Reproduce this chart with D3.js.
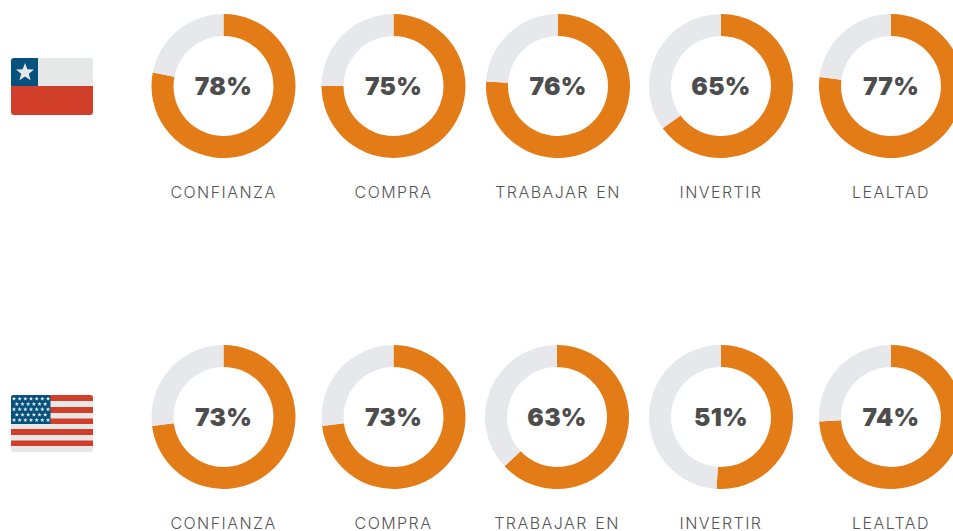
<!DOCTYPE html>
<html>
<head>
<meta charset="utf-8">
<script src="https://cdn.jsdelivr.net/npm/d3@7/dist/d3.min.js"></script>
<style>
html, body { margin: 0; padding: 0; background: #fff; overflow: hidden; }
svg { display: block; }
.pct { font-family: Inter, sans-serif; font-weight: 900; font-size: 24.5px; fill: #4d4d4d; text-anchor: middle; letter-spacing: 0.3px; }
.lbl { font-family: Inter, sans-serif; font-weight: 300; font-size: 16px; fill: #555; text-anchor: middle; letter-spacing: 1.45px; word-spacing: 1.5px; }
</style>
</head>
<body>
<svg width="953" height="531"></svg>
<script>
var categories = ["CONFIANZA", "COMPRA", "TRABAJAR EN", "INVERTIR", "LEALTAD"];
var chile = [78, 75, 76, 65, 77];
var usa = [73, 73, 63, 51, 74];

var svg = d3.select("svg");

var OUTER = 72, INNER = 50;
var arc = d3.arc().innerRadius(INNER).outerRadius(OUTER);
var pie = d3.pie().sort(null);

function drawRow(values, cy, cxs) {
    var row = svg.append("g").attr("class", "row");
    values.forEach(function (v, i) {
        var g = row.append("g").attr("transform", "translate(" + cxs[i] + "," + cy + ")");
        g.selectAll("path")
            .data(pie([v, 100 - v]))
            .enter().append("path")
            .attr("d", arc)
            .attr("fill", function (d, j) { return j == 0 ? "#e37b17" : "#e7e8ec"; });
        g.append("text").attr("class", "pct").attr("y", 9).text(v + "%");
        g.append("text").attr("class", "lbl").attr("y", 112).text(categories[i]);
    });
}

drawRow(chile, 86, [223.5, 393.5, 558, 721, 891]);
drawRow(usa, 417, [223.5, 393.5, 557, 721, 891]);

function star(cx, cy, r) {
    var pts = d3.range(10).map(function (i) {
        var a = i * Math.PI / 5, rr = i % 2 ? r * 0.42 : r;
        return [cx + rr * Math.sin(a), cy - rr * Math.cos(a)];
    });
    return "M" + pts.join("L") + "Z";
}

// chile flag
var fc = svg.append("g");
fc.append("clipPath").attr("id", "clipc").append("rect")
    .attr("x", 11).attr("y", 58).attr("width", 82).attr("height", 57).attr("rx", 3);
var fcg = fc.append("g").attr("clip-path", "url(#clipc)");
fcg.append("rect").attr("x", 11).attr("y", 58).attr("width", 82).attr("height", 28).attr("fill", "#e6e7e7");
fcg.append("rect").attr("x", 11).attr("y", 86).attr("width", 82).attr("height", 29).attr("fill", "#d13e2a");
fcg.append("rect").attr("x", 11).attr("y", 58).attr("width", 27).attr("height", 28).attr("fill", "#05527f");
fcg.append("path").attr("d", star(25, 72.5, 9.5)).attr("fill", "#e6e7e7");

// usa flag
var fu = svg.append("g");
fu.append("clipPath").attr("id", "clipu").append("rect")
    .attr("x", 11).attr("y", 395).attr("width", 82).attr("height", 57).attr("rx", 3);
var fug = fu.append("g").attr("clip-path", "url(#clipu)");
fug.append("rect").attr("x", 11).attr("y", 395).attr("width", 82).attr("height", 57).attr("fill", "#e6e7e7");
[[395, 6], [407, 6], [418.5, 5.5], [429, 6], [440.5, 5.5]].forEach(function (s) {
    fug.append("rect").attr("x", 11).attr("y", s[0]).attr("width", 82).attr("height", s[1]).attr("fill", "#d13e2a");
});
fug.append("rect").attr("x", 11).attr("y", 395).attr("width", 39.5).attr("height", 29).attr("fill", "#05527f");
d3.range(5).forEach(function (r) {
    d3.range(r % 2 ? 6 : 7).forEach(function (c) {
        var x = 14 + c * 5.67 + (r % 2 ? 2.83 : 0), y = 398.7 + r * 5.35;
        fug.append("path").attr("d", star(x, y, 2.3)).attr("fill", "#e6e7e7");
    });
});
</script>
</body>
</html>
